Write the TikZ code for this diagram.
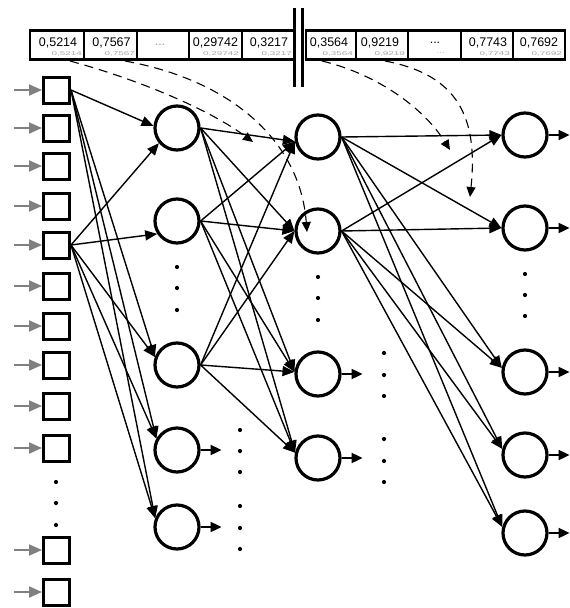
\documentclass[tikz,border=0pt]{standalone}
\usepackage{fontspec}
\setmainfont{Liberation Sans}
\usetikzlibrary{arrows.meta,calc}
\begin{document}
\begin{tikzpicture}[x=1pt,y=-1pt,
  sq/.style={draw,line width=3pt,minimum size=26pt,inner sep=0pt,rectangle,fill=white},
  neuron/.style={draw,line width=3.2pt,circle,minimum size=44pt,inner sep=0pt,fill=white},
  conn/.style={line width=1.4pt,-{Triangle[length=12pt,width=10pt]}},
  inarr/.style={draw=gray,line width=1.8pt,-{Triangle[length=13pt,width=11pt]}},
  outarr/.style={line width=1.8pt,-{Triangle[length=11pt,width=10pt]}},
  wdash/.style={line width=1.1pt,dash pattern=on 9pt off 6pt,-{Triangle[length=10pt,width=9pt]}},
  cellbox/.style={draw,line width=2.6pt,minimum height=29pt,inner sep=0pt,rectangle},
  val/.style={font=\fontsize{12.5}{12.5}\selectfont,inner sep=0pt},
  ghost/.style={font=\fontsize{11}{11}\selectfont,text=black!35,inner sep=0pt,anchor=east},
  dotm/.style={fill,circle,inner sep=0pt,minimum size=4.2pt}
]
\useasboundingbox (0,0) rectangle (570,608);

% ---- top bars ----
\node[cellbox,minimum width=54pt] (l1) at (57,45) {};
\node[cellbox,minimum width=53pt] (l2) at (110.5,45) {};
\node[cellbox,minimum width=52pt] (l3) at (163,45) {};
\node[cellbox,minimum width=53pt] (l4) at (215.5,45) {};
\node[cellbox,minimum width=52pt] (l5) at (268,45) {};
\node[cellbox,minimum width=50pt] (r1) at (331,45) {};
\node[cellbox,minimum width=52pt] (r2) at (382,45) {};
\node[cellbox,minimum width=53pt] (r3) at (434.5,45) {};
\node[cellbox,minimum width=52pt] (r4) at (487,45) {};
\node[cellbox,minimum width=52pt] (r5) at (539,45) {};

\node[val] at (58,43) {0,5214};
\node[val] at (111.5,43) {0,7567};
\node[val,text=black!40] at (160,45) {...};
\node[val] at (215.5,43) {0,29742};
\node[val] at (269,43) {0,3217};
\node[val] at (329,43) {0,3564};
\node[val] at (380,43) {0,9219};
\node[val] at (435,43) {...};
\node[val] at (488,43) {0,7743};
\node[val] at (539,43) {0,7692};

\node[ghost] at (82,54) {\scalebox{0.9}[0.5]{0,5214}};
\node[ghost] at (135,54) {\scalebox{0.9}[0.5]{0,7567}};
\node[ghost] at (239,54) {\scalebox{0.9}[0.5]{0,29742}};
\node[ghost] at (292,54) {\scalebox{0.9}[0.5]{0,3217}};
\node[ghost] at (353,54) {\scalebox{0.9}[0.5]{0,3564}};
\node[ghost] at (405,54) {\scalebox{0.9}[0.5]{0,9219}};
\node[ghost] at (445,53) {\scalebox{0.9}[0.5]{...}};
\node[ghost] at (510,54) {\scalebox{0.9}[0.5]{0,7743}};
\node[ghost] at (562,54) {\scalebox{0.9}[0.5]{0,7692}};

\draw[line width=3.2pt] (294.5,8) -- (294.5,87);
\draw[line width=3.2pt] (302.5,8) -- (302.5,87);

% ---- input squares ----
\foreach \i/\y in {1/90,2/128,3/166,4/206,5/245,6/286,7/326,8/365,9/406,10/448,11/550,12/592}{
  \node[sq] (s\i) at (56.5,\y) {};
  \draw[inarr] (s\i.west) ++(-28,0) -- (s\i.west);
}
\foreach \y in {482,503,525}{\node[dotm] at (56,\y) {};}

% ---- layer 1 ----
\foreach \i/\y in {1/128,2/221,3/365,4/450,5/527}{\node[neuron] (a\i) at (177,\y) {};}
% ---- layer 2 ----
\foreach \i/\y in {1/137,2/231,3/374,4/458}{\node[neuron] (b\i) at (318,\y) {};}
% ---- output ----
\foreach \i/\y in {1/135,2/228,3/372,4/455,5/533}{\node[neuron] (o\i) at (525,\y) {};}

% dots
\foreach \y in {267,288,310}{\node[dotm] at (177,\y) {};}
\foreach \y in {277,298,320}{\node[dotm] at (318,\y) {};}
\foreach \y in {274,295,316}{\node[dotm] at (525,\y) {};}
\foreach \y in {430,451,472,506,528,549}{\node[dotm] at (240,\y) {};}
\foreach \y in {353,375,396,439,461,482}{\node[dotm] at (384,\y) {};}

% ---- input -> layer 1 ----
\draw[conn] (s1.east) -- (a1.175);
\draw[conn] (s1.east) -- (a3.160);
\draw[conn] (s1.east) -- (a4.151);
\draw[conn] (s1.east) -- (a5.158);
\draw[conn] (s5.east) -- (a1.220);
\draw[conn] (s5.east) -- (a2.213);
\draw[conn] (s5.east) -- (a3.160);
\draw[conn] (s5.east) -- (a4.151);
\draw[conn] (s5.east) -- (a5.158);

% ---- layer 1 -> layer 2 ----
\foreach \i in {1,2,3}{
  \draw[conn] (a\i.east) -- (b1.191);
  \draw[conn] (a\i.east) -- (b2.180);
  \draw[conn] (a\i.east) -- (b3.175);
  \draw[conn] (a\i.east) -- (b4.167);
}
% ---- layer 2 -> output ----
\foreach \i in {1,2}{
  \draw[conn] (b\i.east) -- (o1.180);
  \draw[conn] (b\i.east) -- (o2.180);
  \draw[conn] (b\i.east) -- (o3.170);
  \draw[conn] (b\i.east) -- (o4.165);
  \draw[conn] (b\i.east) -- (o5.165);
}

% ---- output arrows ----
\foreach \n in {a4,a5,b3,b4,o1,o2,o3,o4,o5}{
  \draw[outarr] (\n.east) -- ++(21,0);
}

% ---- dashed mapping arrows ----
\coordinate (d1s) at (70,61);
\coordinate (d1e) at (253,142);
\coordinate (d2s) at (125,61);
\coordinate (d2e) at (307,232);
\coordinate (d3s) at (322,61);
\coordinate (d3e) at (450,150);
\coordinate (d4s) at (385,61);
\coordinate (d4e) at (470,197);
\draw[wdash] (d1s) .. controls (140,80) and (210,110) .. (d1e);
\draw[wdash] (d2s) .. controls (230,80) and (300,140) .. (d2e);
\draw[wdash] (d3s) .. controls (380,75) and (425,110) .. (d3e);
\draw[wdash] (d4s) .. controls (460,75) and (478,120) .. (d4e);
\end{tikzpicture}
\end{document}
